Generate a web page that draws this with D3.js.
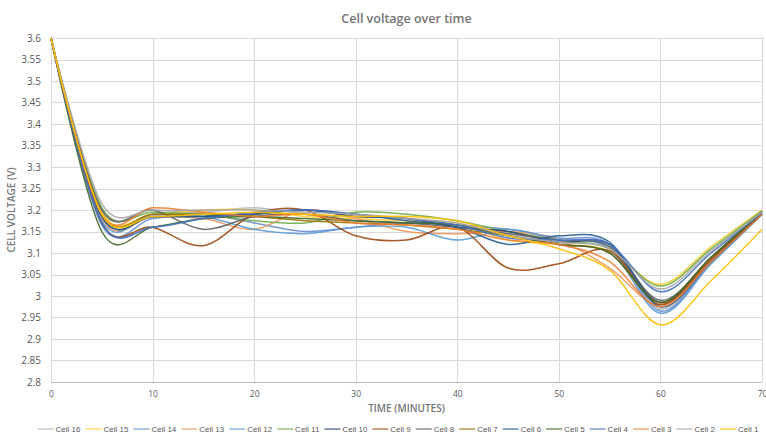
<!DOCTYPE html>
<html lang="en">
<head>
    <meta charset="UTF-8"/>
    <title>Cell voltage over time</title>
    <script src="https://d3js.org/d3.v7.min.js"></script>
    <style>
        body { margin: 0; background: #ffffff; }
        text { font-family: "Open Sans", "Liberation Sans", sans-serif; }
    </style>
</head>
<body>
<script>
    var w = 766;
    var h = 437;
    var margin = {top: 38, right: 4, bottom: 55, left: 51};

    // time in minutes
    var times = [0, 5, 10, 15, 20, 25, 30, 35, 40, 45, 50, 55, 60, 65, 70];

    var yTicks = [2.8, 2.85, 2.9, 2.95, 3, 3.05, 3.1, 3.15, 3.2, 3.25, 3.3, 3.35, 3.4, 3.45, 3.5, 3.55, 3.6];
    var xTicks = [0, 10, 20, 30, 40, 50, 60, 70];

    // voltages per cell, one value per time
    var cell1  = [3.6, 3.19, 3.185, 3.19, 3.195, 3.19, 3.185, 3.185, 3.175, 3.14, 3.11, 3.06, 2.933, 3.036, 3.155];
    var cell2  = [3.6, 3.215, 3.2, 3.2, 3.2, 3.195, 3.19, 3.18, 3.17, 3.14, 3.125, 3.11, 3.016, 3.105, 3.195];
    var cell3  = [3.6, 3.19, 3.205, 3.195, 3.185, 3.19, 3.17, 3.165, 3.155, 3.13, 3.12, 3.08, 2.975, 3.08, 3.19];
    var cell4  = [3.6, 3.17, 3.16, 3.18, 3.195, 3.2, 3.19, 3.18, 3.165, 3.135, 3.13, 3.12, 3.01, 3.1, 3.195];
    var cell5  = [3.6, 3.15, 3.16, 3.18, 3.185, 3.18, 3.175, 3.17, 3.165, 3.14, 3.12, 3.1, 2.985, 3.09, 3.195];
    var cell6  = [3.6, 3.185, 3.185, 3.185, 3.19, 3.2, 3.19, 3.175, 3.16, 3.12, 3.14, 3.125, 2.975, 3.08, 3.19];
    var cell7  = [3.6, 3.19, 3.19, 3.19, 3.185, 3.175, 3.17, 3.165, 3.155, 3.14, 3.12, 3.1, 2.985, 3.09, 3.195];
    var cell8  = [3.6, 3.2, 3.2, 3.155, 3.185, 3.19, 3.175, 3.17, 3.16, 3.145, 3.13, 3.115, 2.99, 3.09, 3.195];
    var cell9  = [3.6, 3.17, 3.16, 3.117, 3.19, 3.2, 3.14, 3.13, 3.16, 3.065, 3.075, 3.105, 2.98, 3.085, 3.19];
    var cell10 = [3.6, 3.185, 3.185, 3.185, 3.19, 3.2, 3.185, 3.18, 3.16, 3.15, 3.125, 3.12, 2.985, 3.09, 3.195];
    var cell11 = [3.6, 3.205, 3.195, 3.19, 3.175, 3.17, 3.195, 3.19, 3.175, 3.15, 3.13, 3.11, 3.023, 3.11, 3.198];
    var cell12 = [3.6, 3.175, 3.19, 3.185, 3.155, 3.145, 3.16, 3.16, 3.13, 3.155, 3.13, 3.11, 2.96, 3.075, 3.19];
    var cell13 = [3.6, 3.18, 3.185, 3.18, 3.155, 3.2, 3.18, 3.15, 3.145, 3.15, 3.13, 3.065, 2.98, 3.085, 3.19];
    var cell14 = [3.6, 3.165, 3.18, 3.19, 3.17, 3.15, 3.16, 3.17, 3.165, 3.155, 3.135, 3.12, 2.965, 3.078, 3.19];
    var cell15 = [3.6, 3.195, 3.19, 3.2, 3.2, 3.185, 3.18, 3.175, 3.17, 3.13, 3.12, 3.105, 3.027, 3.115, 3.2];
    var cell16 = [3.6, 3.205, 3.2, 3.195, 3.205, 3.19, 3.185, 3.18, 3.165, 3.145, 3.125, 3.115, 2.97, 3.078, 3.19];

    // legend order: Cell 16 first, Cell 1 last
    var names  = ["Cell 16", "Cell 15", "Cell 14", "Cell 13", "Cell 12", "Cell 11", "Cell 10", "Cell 9",
                  "Cell 8", "Cell 7", "Cell 6", "Cell 5", "Cell 4", "Cell 3", "Cell 2", "Cell 1"];
    var values = [cell16, cell15, cell14, cell13, cell12, cell11, cell10, cell9,
                  cell8, cell7, cell6, cell5, cell4, cell3, cell2, cell1];
    var colors = ["#B7B7B7", "#FFCD33", "#698ED0", "#F1975A", "#5B9BD5", "#70AD47", "#264478", "#9E480E",
                  "#636363", "#997300", "#255E91", "#43682B", "#4472C4", "#ED7D31", "#A5A5A5", "#FFC000"];

    var series = names.map(function(n, i) {
        return {name: n, color: colors[i], points: times.map(function(t, j) { return [t, values[i][j]]; })};
    });

    var xScale = d3.scaleLinear()
        .domain([0, 70])
        .range([margin.left, w - margin.right]);

    var yScale = d3.scaleLinear()
        .domain([2.8, 3.6])
        .range([h - margin.bottom, margin.top]);

    var svg = d3.select("body")
        .append("svg")
        .attr("width", w)
        .attr("height", h);

    // gridlines
    svg.append("g")
        .selectAll("line")
        .data(yTicks)
        .enter()
        .append("line")
        .attr("x1", xScale(0))
        .attr("x2", xScale(70))
        .attr("y1", function(d) { return Math.round(yScale(d)) + 0.5; })
        .attr("y2", function(d) { return Math.round(yScale(d)) + 0.5; })
        .attr("stroke", function(d) { return d == 2.8 ? "#bfbfbf" : "#d9d9d9"; })
        .attr("stroke-width", 1);

    svg.append("g")
        .selectAll("line")
        .data(xTicks)
        .enter()
        .append("line")
        .attr("x1", function(d) { return Math.round(xScale(d)) + 0.5; })
        .attr("x2", function(d) { return Math.round(xScale(d)) + 0.5; })
        .attr("y1", yScale(3.6))
        .attr("y2", yScale(2.8))
        .attr("stroke", "#d9d9d9")
        .attr("stroke-width", 1);

    // axis labels via d3 axes, lines hidden
    var yAxis = svg.append("g")
        .attr("transform", "translate(" + (margin.left - 4) + ",0)")
        .call(d3.axisLeft(yScale).tickValues(yTicks).tickSize(0).tickFormat(d3.format("")));
    yAxis.select(".domain").remove();
    yAxis.selectAll("text")
        .attr("fill", "#595959")
        .style("font-size", "10px")
        .attr("dx", "-3");

    var xAxis = svg.append("g")
        .attr("transform", "translate(0," + (h - margin.bottom + 6) + ")")
        .call(d3.axisBottom(xScale).tickValues(xTicks).tickSize(0));
    xAxis.select(".domain").remove();
    xAxis.selectAll("text")
        .attr("fill", "#595959")
        .style("font-size", "8.5px");

    // lines
    var line = d3.line()
        .x(function(d) { return xScale(d[0]); })
        .y(function(d) { return yScale(d[1]); })
        .curve(d3.curveCardinal.tension(0));

    svg.append("g")
        .selectAll("path")
        .data(series)
        .enter()
        .append("path")
        .attr("d", function(d) { return line(d.points); })
        .attr("fill", "none")
        .attr("stroke", function(d) { return d.color; })
        .attr("stroke-width", 1.5)
        .attr("stroke-opacity", 0.9);

    // titles
    svg.append("text")
        .attr("x", (xScale(0) + xScale(70)) / 2)
        .attr("y", 23)
        .attr("text-anchor", "middle")
        .attr("fill", "#757575")
        .style("font-size", "12.5px")
        .style("font-weight", "600")
        .text("Cell voltage over time");

    svg.append("text")
        .attr("x", (xScale(0) + xScale(70)) / 2)
        .attr("y", 412)
        .attr("text-anchor", "middle")
        .attr("fill", "#757575")
        .style("font-size", "10px")
        .style("font-weight", "600")
        .text("TIME (MINUTES)");

    svg.append("text")
        .attr("transform", "translate(15," + ((yScale(2.8) + yScale(3.6)) / 2) + ") rotate(-90)")
        .attr("text-anchor", "middle")
        .attr("fill", "#757575")
        .style("font-size", "10px")
        .style("font-weight", "600")
        .text("CELL VOLTAGE (V)");

    // legend
    var legend = svg.append("g");
    var lx = 0;
    series.forEach(function(s) {
        var g = legend.append("g").attr("transform", "translate(" + lx + ",0)");
        g.append("line")
            .attr("x1", 0).attr("x2", 16)
            .attr("y1", 0).attr("y2", 0)
            .attr("stroke", s.color)
            .attr("stroke-width", 1.5)
            .attr("stroke-opacity", 0.7);
        var t = g.append("text")
            .attr("x", 18)
            .attr("y", 3)
            .attr("fill", "#595959")
            .style("font-family", "'Liberation Sans', Arial, sans-serif")
            .style("font-size", "8px")
            .text(s.name);
        lx += 18 + t.node().getComputedTextLength() + 5;
    });
    legend.attr("transform", "translate(" + (398 - (lx - 5) / 2) + ",429)");
</script>
</body>
</html>
